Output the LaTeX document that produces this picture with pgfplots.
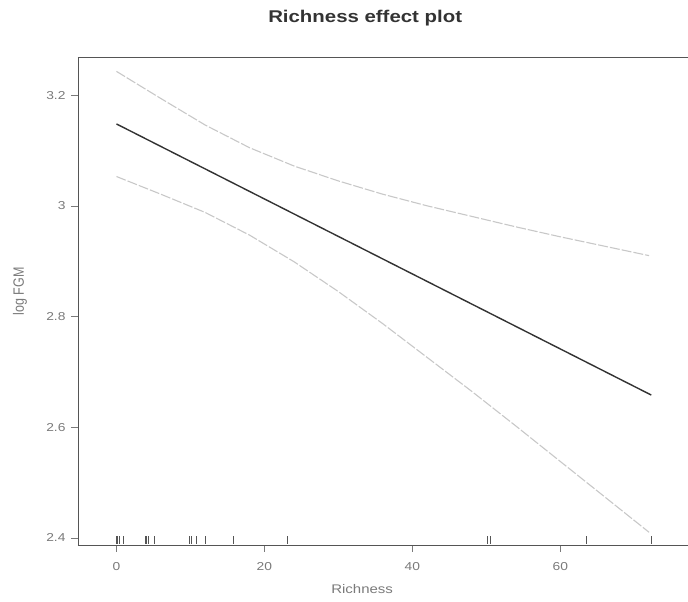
\documentclass[border=0pt]{standalone}
\usepackage{pgfplots}
\pgfplotsset{compat=1.18}
\usepackage{fontspec}
\setmainfont{Liberation Sans}
\usepackage{graphicx}
\definecolor{fitc}{HTML}{333333}
\definecolor{cic}{HTML}{C8C8C8}
\definecolor{labc}{HTML}{7A7A7A}
\definecolor{axc}{HTML}{555555}
\newcommand\sx[1]{\scalebox{1.2}[1]{#1}}
\begin{document}
\begin{tikzpicture}
\begin{axis}[
  at={(0,0)}, anchor=south west,
  scale only axis, width=611pt, height=488pt,
  xmin=-5.2, xmax=77.4, ymin=2.387, ymax=3.269,
  axis x line*=box, axis y line*=left,
  axis line style={axc, line width=0.8pt},
  xtick={0,20,40,60}, xticklabels={\sx{0},\sx{20},\sx{40},\sx{60}},
  ytick={2.4,2.6,2.8,3.0,3.2}, yticklabels={\sx{2.4},\sx{2.6},\sx{2.8},\sx{3},\sx{3.2}},
  tick align=outside, tickwidth=7pt, tick style={labc, line width=0.6pt},
  xtick pos=bottom, ytick pos=left,
  ticklabel style={font=\fontsize{11.5}{13}\selectfont, text=labc},
  yticklabel style={xshift=-2pt},
  xticklabel style={yshift=-7pt},
  clip mode=individual,
]
\addplot[cic, line width=1.1pt, dash pattern=on 10pt off 2pt] coordinates {
(0,3.243) (6,3.194) (12,3.146) (18,3.105) (24,3.072) (30,3.045) (36,3.021)
(42,3.000) (48,2.981) (54,2.962) (60,2.944) (66,2.927) (72,2.910)};
\addplot[cic, line width=1.1pt, dash pattern=on 10pt off 2pt] coordinates {
(0,3.053) (6,3.021) (12,2.988) (18,2.947) (24,2.899) (30,2.845) (36,2.787)
(42,2.726) (48,2.665) (54,2.602) (60,2.538) (66,2.474) (72,2.410)};
\addplot[fitc, line width=1.4pt] coordinates {(0,3.148) (72.3,2.658)};
\addplot[only marks, mark=|, mark size=4pt, mark options={axc, line width=0.9pt}] coordinates {
(0,2.396) (0.2,2.396) (0.4,2.396) (1,2.396) (3.9,2.396) (4.1,2.396) (4.3,2.396) (5.1,2.396)
(9.9,2.396) (10.1,2.396) (10.8,2.396) (12,2.396) (15.8,2.396) (23.1,2.396)
(50.1,2.396) (50.6,2.396) (63.5,2.396) (72.3,2.396)};
\node[font=\bfseries\fontsize{17}{20}\selectfont, text=fitc] at (rel axis cs:0.47,1) [yshift=39pt] {\sx{Richness effect plot}};
\node[font=\fontsize{12.5}{14}\selectfont, text=labc] at (rel axis cs:0.465,0) [yshift=-44pt] {\sx{Richness}};
\node[font=\fontsize{12.5}{14}\selectfont, text=labc, xshift=-58pt, rotate=90] at (rel axis cs:0,0.52) {\scalebox{1}[1.2]{log FGM}};
\end{axis}
\pgfresetboundingbox
\path[use as bounding box] (-78pt,-57pt) rectangle (610pt,545pt);
\end{tikzpicture}
\end{document}
